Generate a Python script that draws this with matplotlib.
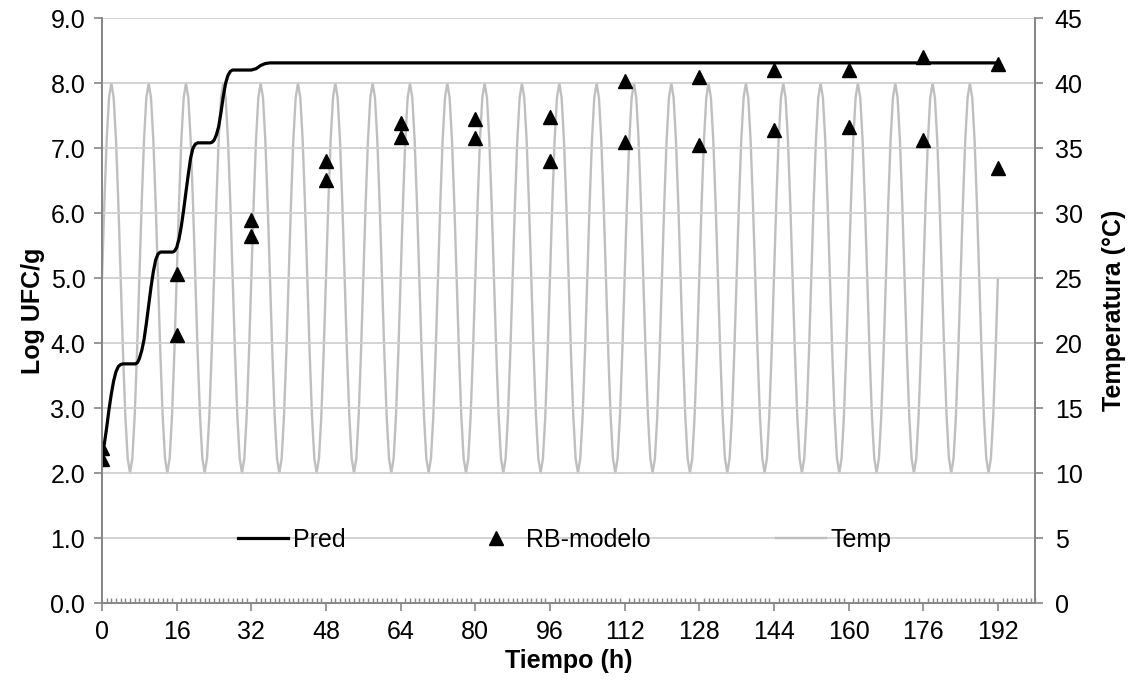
import numpy as np
import matplotlib
matplotlib.use("Agg")
import matplotlib.pyplot as plt
from matplotlib.ticker import MultipleLocator, FormatStrFormatter

plt.rcParams["font.family"] = ["Liberation Sans", "DejaVu Sans"]

# Pred (predicted growth curve)
pred_t = [0, 0.5, 1, 1.5, 2, 2.5, 3, 3.5, 4, 4.5,
          7.2, 7.6, 8, 8.5, 9, 9.5, 10, 10.5, 11, 11.5, 12, 12.5,
          15.2, 15.6, 16, 16.5, 17, 17.5, 18, 18.5, 19, 19.5, 20, 20.5,
          23.2, 23.6, 24, 24.5, 25, 25.5, 26, 26.5, 27, 27.5, 28,
          32, 33, 34, 35, 36, 192]
pred_v = [2.31, 2.45, 2.70, 2.98, 3.22, 3.42, 3.56, 3.64, 3.67, 3.68,
          3.68, 3.70, 3.76, 3.88, 4.05, 4.30, 4.58, 4.86, 5.10, 5.28, 5.37, 5.40,
          5.40, 5.42, 5.47, 5.60, 5.80, 6.05, 6.33, 6.60, 6.85, 7.00, 7.06, 7.08,
          7.08, 7.09, 7.12, 7.20, 7.33, 7.55, 7.80, 8.00, 8.12, 8.18, 8.20,
          8.20, 8.22, 8.27, 8.30, 8.31, 8.31]

# RB-modelo observations (two replicates per sampling time)
obs_t = [0, 0, 16, 16, 32, 32, 48, 48, 64, 64, 80, 80, 96, 96,
         112, 112, 128, 128, 144, 144, 160, 160, 176, 176, 192, 192]
obs_v = [2.38, 2.22, 5.07, 4.12, 5.89, 5.65, 6.80, 6.51, 7.38, 7.17,
         7.44, 7.15, 7.47, 6.80, 8.03, 7.09, 8.10, 7.05, 8.20, 7.28,
         8.20, 7.32, 8.40, 7.13, 8.30, 6.70]

# Temperature: one 8 h cycle sampled every 0.5 h, repeated for 24 cycles
temp_cycle = [25, 30.74, 35.61, 38.86, 40, 38.86, 35.61, 30.74,
              25, 19.26, 14.39, 11.14, 10, 11.14, 14.39, 19.26]
n_cycles = 24
temp_v = list(np.tile(temp_cycle, n_cycles)) + [25]
temp_t = list(np.arange(len(temp_v)) * 0.5)

spine_col = "#868686"
grid_col = "#d0d0d0"
fs = 18

fig = plt.figure(figsize=(11.36, 6.83), dpi=100)
ax = fig.add_axes([0.0898, 0.117, 0.8215, 0.8566])
ax2 = ax.twinx()

ax2.plot(temp_t, temp_v, color="#bfbfbf", lw=1.7, label="Temp")
ax.plot(pred_t, pred_v, color="black", lw=2.3, label="Pred")
ax.plot(obs_t, obs_v, ls="none", marker="^", ms=10, color="black", label="RB-modelo")

ax.set_zorder(ax2.get_zorder() + 1)
ax.patch.set_visible(False)

ax.set_xlim(0, 200)
ax.set_ylim(0, 9)
ax2.set_ylim(0, 45)

ax.xaxis.set_minor_locator(MultipleLocator(1))
ax.set_xticks(range(0, 193, 16))
ax.yaxis.set_major_locator(MultipleLocator(1))
ax.yaxis.set_major_formatter(FormatStrFormatter("%.1f"))
ax2.yaxis.set_major_locator(MultipleLocator(5))

ax.grid(axis="y", color=grid_col, lw=1.3)
ax.set_axisbelow(True)

for a in (ax, ax2):
    a.spines["top"].set_visible(False)
    for s in ("left", "right", "bottom"):
        a.spines[s].set_color(spine_col)
        a.spines[s].set_linewidth(1.3)

ax.tick_params(axis="both", which="major", direction="out", length=6,
               color=spine_col, width=1.2, labelsize=fs, pad=6)
ax.tick_params(axis="x", which="minor", direction="in", length=3.5,
               color=spine_col, width=1)
ax2.tick_params(axis="y", which="major", direction="out", length=6,
                color=spine_col, width=1.2, labelsize=fs, pad=8)

ax.set_xlabel("Tiempo (h)", fontsize=fs, fontweight="bold", labelpad=4)
ax.set_ylabel("Log UFC/g", fontsize=fs, fontweight="bold", labelpad=4)
ax2.set_ylabel("Temperatura (°C)", fontsize=fs, fontweight="bold", labelpad=14)

h1, l1 = ax.get_legend_handles_labels()
h2, l2 = ax2.get_legend_handles_labels()
ax.legend(h1 + h2, l1 + l2, loc="center", bbox_to_anchor=(0.496, 0.108),
          ncol=3, frameon=False, fontsize=fs, handlelength=2.0,
          handletextpad=0.2, columnspacing=5.0)

fig.savefig("out.png", dpi=100)
